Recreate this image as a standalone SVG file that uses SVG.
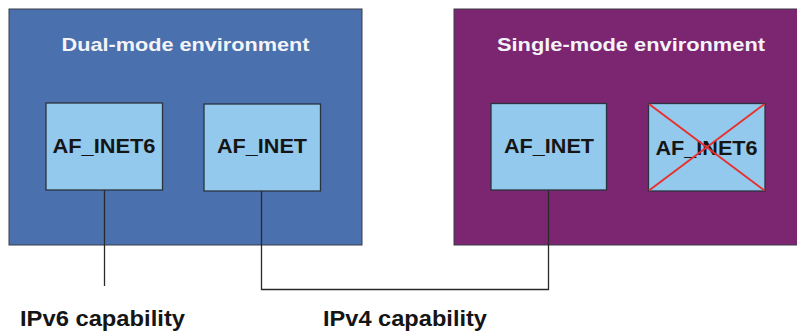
<svg xmlns="http://www.w3.org/2000/svg" width="797" height="333" viewBox="0 0 797 333">
<style>
.env{stroke:#3a3a48;stroke-width:1}
.node{fill:#93c9ec;stroke:#2a3340;stroke-width:1.3}
.title{font-family:"Liberation Sans",Arial,sans-serif;font-weight:bold;font-size:19px;fill:#f4f4f8;text-anchor:middle}
.lbl{font-family:"Liberation Sans",Arial,sans-serif;font-weight:bold;font-size:20px;fill:#151515;text-anchor:middle}
.cap{font-family:"Liberation Sans",Arial,sans-serif;font-weight:bold;font-size:22px;fill:#151515}
.conn{fill:none;stroke:#2a2a2a;stroke-width:1.3}
.cross{stroke:#e8302e;stroke-width:2}
</style>
<rect width="797" height="333" fill="#ffffff"/>
<g id="dual-env">
<rect class="env" x="9" y="9" width="353" height="236" fill="#4b70ae"/>
<text class="title" x="185.5" y="51" textLength="248" lengthAdjust="spacingAndGlyphs">Dual-mode environment</text>
</g>
<g id="single-env">
<rect class="env" x="454" y="9" width="345" height="236" fill="#7c2672"/>
<text class="title" x="631" y="51" textLength="268" lengthAdjust="spacingAndGlyphs">Single-mode environment</text>
</g>
<g id="connectors">
<path class="conn" d="M104.5 190 V286"/>
<path class="conn" d="M261.5 191 V289.5 H548.5 V190"/>
</g>
<g id="dual-inet6">
<rect class="node" x="46" y="103" width="116.5" height="87"/>
<text class="lbl" x="104" y="152.5" textLength="103" lengthAdjust="spacingAndGlyphs">AF_INET6</text>
</g>
<g id="dual-inet">
<rect class="node" x="204" y="104" width="116.5" height="87"/>
<text class="lbl" x="262" y="153" textLength="90" lengthAdjust="spacingAndGlyphs">AF_INET</text>
</g>
<g id="single-inet">
<rect class="node" x="491" y="103.5" width="115.5" height="86.5"/>
<text class="lbl" x="549" y="153" textLength="90" lengthAdjust="spacingAndGlyphs">AF_INET</text>
</g>
<g id="single-inet6">
<rect class="node" x="648.5" y="103.5" width="116.5" height="87.5"/>
<text class="lbl" x="706.5" y="155" textLength="102" lengthAdjust="spacingAndGlyphs">AF_INET6</text>
<line class="cross" x1="649" y1="104" x2="764.5" y2="190.5"/>
<line class="cross" x1="764.5" y1="104" x2="649" y2="190.5"/>
</g>
<text class="cap" x="20" y="326" textLength="165" lengthAdjust="spacingAndGlyphs">IPv6 capability</text>
<text class="cap" x="323" y="326" textLength="164" lengthAdjust="spacingAndGlyphs">IPv4 capability</text>
</svg>
